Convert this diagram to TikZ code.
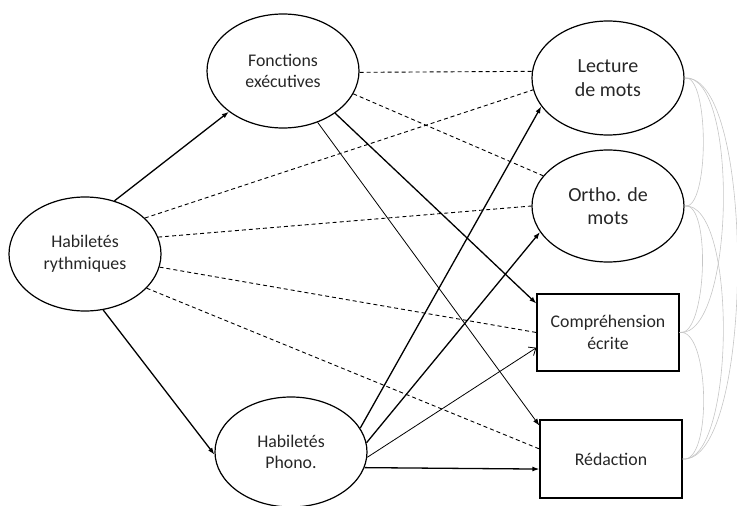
\documentclass[tikz,border=0pt]{standalone}
\usepackage{fontspec}
\setmainfont{Carlito}
\usetikzlibrary{arrows.meta,shapes.geometric}
\begin{document}
\begin{tikzpicture}[x=1pt,y=-1pt,
  lbl/.style={font=\fontsize{17.8}{21.6}\selectfont, text=black!85, align=center},
  biglbl/.style={font=\fontsize{20}{23.4}\selectfont},
  ell/.style={lbl, draw, ellipse, line width=1.2pt, minimum width=152pt, minimum height=114pt, inner sep=0pt},
  box/.style={lbl, draw, rectangle, line width=1.2pt, minimum width=142pt, minimum height=77pt, inner sep=0pt},
  thickarr/.style={line width=1.3pt, -{Latex[length=7pt,width=5pt]}},
  thinarr/.style={line width=0.8pt, -{Latex[length=7pt,width=5pt]}},
  openarr/.style={line width=0.8pt, -{Straight Barb[length=6pt,width=10pt]}},
  dashline/.style={line width=0.9pt, dash pattern=on 4pt off 3pt},
  corr/.style={draw=gray!45, line width=0.6pt}
]
\useasboundingbox (0,0) rectangle (737,506);

\node[ell] (FE) at (283,71) {Fonctions\\exécutives};
\node[ell] (HR) at (85,254) {Habiletés\\rythmiques};
\node[ell, minimum height=110pt] (HP) at (291,452) {Habiletés\\Phono.};
\node[ell, biglbl] (LM) at (608,78) {Lecture\\de mots};
\node[ell, biglbl, minimum height=112pt] (OM) at (608,206) {Ortho. de\\mots};
\node[box] (CE) at (608,332.5) {Compréhension\\écrite};
\node[box, minimum height=78pt] (RE) at (611,459) {Rédaction};

% Habiletés rythmiques
\draw[thickarr] (HR.61) -- (FE.217);
\draw[thickarr] (HR.-72) -- (HP.182);
\draw[dashline] (HR.31) -- (LM.189);
\draw[dashline] (HR.13) -- (OM.180);
\draw[dashline] (HR.-10) -- (CE.180);
\draw[dashline] (HR.-29) -- (RE.172.8);

% Fonctions exécutives
\draw[dashline] (FE.-1) -- (LM.175.5);
\draw[dashline] (FE.-18) -- (OM.155);
\draw[thickarr] (FE.-39) -- (CE.158.8);
\draw[thinarr] (FE.-56) -- (RE.155.7);

% Habiletés Phono.
\draw[thickarr] (HP.19.4) -- (LM.203.5);
\draw[thickarr] (HP.7) -- (OM.201);
\draw[openarr] (HP.-4) -- (CE.192);
\draw[thickarr] (HP.-12) -- (RE.188);

% correlations
\draw[corr] (LM.east) .. controls +(25,-5) and +(25,5) .. (OM.east);
\draw[corr] (LM.east) .. controls +(55,-5) and +(55,5) .. (CE.east);
\draw[corr] (LM.east) .. controls +(72,-5) and +(72,5) .. (RE.east);
\draw[corr] (OM.east) .. controls +(27,-5) and +(27,5) .. (CE.east);
\draw[corr] (OM.east) .. controls +(53,-5) and +(53,5) .. (RE.east);
\draw[corr] (CE.east) .. controls +(30,-5) and +(30,5) .. (RE.east);
\end{tikzpicture}
\end{document}
